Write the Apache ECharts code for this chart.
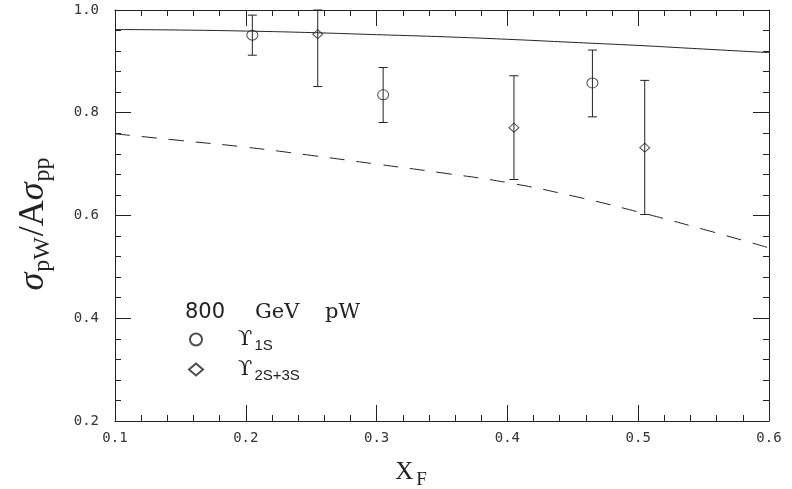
<!DOCTYPE html>
<html>
<head>
<meta charset="utf-8">
<script src="https://cdn.jsdelivr.net/npm/echarts@6/dist/echarts.min.js"></script>
<style>html,body{margin:0;padding:0;background:#fff}#c{width:792px;height:489px}</style>
</head>
<body>
<div id="c"></div>
<script>
// Υ(1S) data
const x1S = [0.205, 0.305, 0.465];
const y1S = [0.951, 0.835, 0.858];
const lo1S = [0.912, 0.781, 0.792];
const hi1S = [0.990, 0.888, 0.922];
// Υ(2S+3S) data
const x2S = [0.255, 0.405, 0.505];
const y2S = [0.953, 0.771, 0.732];
const lo2S = [0.851, 0.670, 0.602];
const hi2S = [1.000, 0.872, 0.863];
// theory curves
const curveX = [0.1, 0.15, 0.2, 0.25, 0.3, 0.35, 0.4, 0.45, 0.5, 0.55, 0.6];
const solidY = [0.962, 0.961, 0.959, 0.956, 0.952, 0.948, 0.943, 0.937, 0.931, 0.924, 0.917];
const dashedY = [0.759, 0.746, 0.733, 0.717, 0.700, 0.683, 0.664, 0.638, 0.607, 0.573, 0.537];
// tick labels
const xTickLabels = ['0.1', '0.2', '0.3', '0.4', '0.5', '0.6'];
const yTickLabels = ['0.2', '0.4', '0.6', '0.8', '1.0'];

const INK = '#222';
const chart = echarts.init(document.getElementById('c'));

function errSeries(xs, lo, hi) {
  return {
    type: 'custom',
    xAxisIndex: 0, yAxisIndex: 0,
    data: xs.map((x, i) => [x, lo[i], hi[i]]),
    renderItem: function (params, api) {
      const pLo = api.coord([api.value(0), api.value(1)]);
      const pHi = api.coord([api.value(0), api.value(2)]);
      const w = 4.5;
      const st = {stroke: INK, lineWidth: 1};
      return {
        type: 'group',
        children: [
          {type: 'line', shape: {x1: pLo[0], y1: pLo[1], x2: pHi[0], y2: pHi[1]}, style: st},
          {type: 'line', shape: {x1: pLo[0] - w, y1: pLo[1], x2: pLo[0] + w, y2: pLo[1]}, style: st},
          {type: 'line', shape: {x1: pHi[0] - w, y1: pHi[1], x2: pHi[0] + w, y2: pHi[1]}, style: st}
        ]
      };
    },
    silent: true, z: 3
  };
}

const axisCommon = {
  type: 'value',
  axisLine: {show: true, onZero: false, lineStyle: {color: INK, width: 1}},
  axisTick: {show: true, inside: true, length: 16, lineStyle: {color: INK, width: 1}},
  minorTick: {show: true, splitNumber: 5, length: 6, lineStyle: {color: INK, width: 1}},
  splitLine: {show: false},
  minorSplitLine: {show: false}
};

const tickFont = {color: '#333', fontFamily: 'DejaVu Sans Mono', fontSize: 14};

const option = {
  backgroundColor: '#fff',
  animation: false,
  grid: {left: 115, right: 23, top: 10, bottom: 68, containLabel: false, outerBoundsMode: 'none'},
  xAxis: [
    Object.assign({}, axisCommon, {
      position: 'bottom', min: 0.1, max: 0.6, interval: 0.1,
      axisLabel: Object.assign({show: true, margin: 10}, tickFont, {
        formatter: (v) => xTickLabels[Math.round((v - 0.1) * 10)]}),
      name: 'X{s|F}',
      nameLocation: 'middle', nameGap: 34,
      nameTextStyle: {fontFamily: 'Liberation Serif', fontSize: 25, color: INK, padding: [0, 62, 0, 0],
        rich: {s: {fontFamily: 'Liberation Serif', fontSize: 19, color: INK, verticalAlign: 'bottom', padding: [16, 0, 0, 3]}}}
    }),
    Object.assign({}, axisCommon, {
      position: 'top', min: 0.1, max: 0.6, interval: 0.1,
      axisLabel: {show: false}
    })
  ],
  yAxis: [
    Object.assign({}, axisCommon, {
      position: 'left', min: 0.2, max: 1.0, interval: 0.2,
      axisLabel: Object.assign({show: true, margin: 16}, tickFont, {
        formatter: (v) => yTickLabels[Math.round((v - 0.2) * 5)]}),
      name: '{g|σ}{s|pW}{m|/A}{g|σ}{s|pp}',
      nameLocation: 'middle', nameGap: 60,
      nameTextStyle: {color: INK, padding: [0, 16, 0, 0],
        rich: {
          g: {fontFamily: 'Liberation Serif', fontStyle: 'italic', fontSize: 36, color: INK},
          m: {fontFamily: 'Liberation Serif', fontSize: 36, color: INK},
          s: {fontFamily: 'Liberation Serif', fontSize: 24, color: INK, verticalAlign: 'bottom', padding: [19, 1, 0, 1]}
        }}
    }),
    Object.assign({}, axisCommon, {
      position: 'right', min: 0.2, max: 1.0, interval: 0.2,
      axisLabel: {show: false}
    })
  ],
  legend: {
    data: ['ϒ1S', 'ϒ2S+3S'],
    orient: 'vertical',
    left: 188, top: 329, padding: 0,
    itemWidth: 14, itemHeight: 12, itemGap: 6,
    selectedMode: false,
    formatter: function (name) {
      return '{u|ϒ}{s|' + name.slice(1) + '}';
    },
    textStyle: {
      color: INK, padding: [0, 0, 0, 30],
      rich: {
        u: {fontFamily: 'DejaVu Serif', fontSize: 21, color: INK},
        s: {fontFamily: 'Liberation Sans', fontSize: 15, color: INK, verticalAlign: 'bottom', padding: [12, 0, 0, 2]}
      }
    }
  },
  graphic: [{
    type: 'text', left: 185, top: 302, silent: true,
    style: {
      text: '{a|800}{b|GeV}{c|pW}',
      rich: {
        a: {fontFamily: 'DejaVu Sans', fontSize: 21, fill: INK, width: 70},
        b: {fontFamily: 'DejaVu Serif', fontSize: 21, fill: INK, width: 70},
        c: {fontFamily: 'DejaVu Serif', fontSize: 21, fill: INK}
      }
    }
  }],
  series: [
    {
      type: 'line', name: 'solid', data: curveX.map((x, i) => [x, solidY[i]]),
      smooth: true, showSymbol: false, symbol: 'none',
      lineStyle: {color: INK, width: 1}, silent: true, z: 2
    },
    {
      type: 'line', name: 'dashed', data: curveX.map((x, i) => [x, dashedY[i]]),
      smooth: true, showSymbol: false, symbol: 'none',
      lineStyle: {color: INK, width: 1, type: [15, 12]}, silent: true, z: 2
    },
    errSeries(x1S, lo1S, hi1S),
    errSeries(x2S, lo2S, hi2S),
    {
      type: 'scatter', name: 'ϒ1S', data: x1S.map((x, i) => [x, y1S[i]]),
      symbol: 'circle', symbolSize: [11, 10],
      itemStyle: {color: 'rgba(255,255,255,0)', borderColor: INK, borderWidth: 1}, z: 4
    },
    {
      type: 'scatter', name: 'ϒ2S+3S', data: x2S.map((x, i) => [x, y2S[i]]),
      symbol: 'diamond', symbolSize: [10, 9],
      itemStyle: {color: 'rgba(255,255,255,0)', borderColor: INK, borderWidth: 1}, z: 4
    }
  ]
};
chart.setOption(option);
</script>
</body>
</html>
